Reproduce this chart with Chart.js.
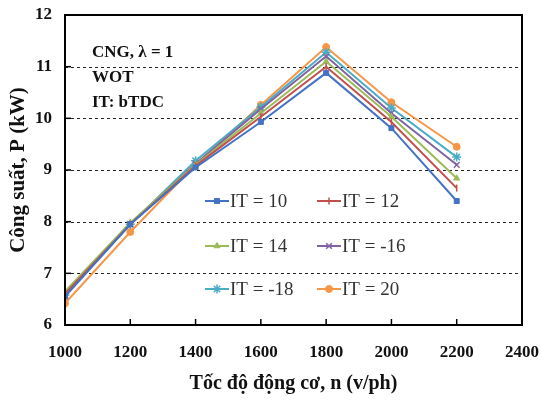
<!DOCTYPE html>
<html><head><meta charset="utf-8">
<script src="https://cdn.jsdelivr.net/npm/chart.js@4/dist/chart.umd.min.js"></script>
<style>html,body{margin:0;padding:0;background:#fff}#wrap{width:542px;height:400px}</style>
</head><body><div id="wrap"><canvas id="c" width="542" height="400"></canvas></div>
<script>
const speeds = [1000, 1200, 1400, 1600, 1800, 2000, 2200];
const seriesLabels = ['IT = 10', 'IT = 12', 'IT = 14', 'IT = -16', 'IT = -18', 'IT = 20'];
const it10  = [6.55, 7.95, 9.05, 9.93, 10.88, 9.81, 8.40];
const it12  = [6.60, 7.95, 9.08, 10.03, 11.00, 9.93, 8.65];
const it14  = [6.65, 7.98, 9.10, 10.10, 11.10, 10.03, 8.84];
const itM16 = [6.62, 7.95, 9.12, 10.18, 11.20, 10.10, 9.10];
const itM18 = [6.58, 7.95, 9.18, 10.22, 11.28, 10.20, 9.25];
const it20  = [6.42, 7.80, 9.10, 10.26, 11.38, 10.31, 9.45];
const yTicks = [6, 7, 8, 9, 10, 11, 12];
const xTicks = [1000, 1200, 1400, 1600, 1800, 2000, 2200, 2400];
const annotLines = ['CNG, \u03bb = 1', 'WOT', 'IT: bTDC'];
const yTitle = 'C\u00f4ng su\u1ea5t, P (kW)';
const xTitle = 'T\u1ed1c \u0111\u1ed9 \u0111\u1ed9ng c\u01a1, n (v/ph)';

const allValues = [it10, it12, it14, itM16, itM18, it20];
const colors = ['#4472C4', '#C0504D', '#9BBB59', '#8064A2', '#4BACC6', '#F79646'];
const styles = ['rect', 'line', 'triangle', 'crossRot', 'star', 'circle'];
const rads = [3.5, 3.5, 3.5, 4, 4.5, 3.5];
const SERIF = "'Liberation Serif', 'DejaVu Serif', serif";

const datasets = allValues.map((vals, i) => ({
  label: seriesLabels[i],
  data: speeds.map((s, j) => ({x: s, y: vals[j]})),
  borderColor: colors[i],
  backgroundColor: colors[i],
  borderWidth: 2,
  pointStyle: styles[i],
  pointRadius: rads[i],
  pointRotation: i === 1 ? 90 : 0,
  pointBorderWidth: (i === 3 || i === 4 || i === 1) ? 1.5 : 1,
  tension: 0,
  fill: false
}));

const decor = {
  id: 'decor',
  beforeDatasetsDraw(chart) {
    const ctx = chart.ctx, a = chart.chartArea, ys = chart.scales.y;
    ctx.save();
    ctx.strokeStyle = '#222'; ctx.lineWidth = 1;
    ctx.setLineDash([3, 3]);
    yTicks.forEach(v => {
      if (v === yTicks[0] || v === yTicks[yTicks.length-1]) return;
      const py = Math.round(ys.getPixelForValue(v)) + 0.5;
      ctx.beginPath(); ctx.moveTo(a.left, py); ctx.lineTo(a.right, py); ctx.stroke();
    });
    ctx.restore();
  },
  afterDraw(chart) {
    const ctx = chart.ctx, a = chart.chartArea;
    const xs = chart.scales.x, ys = chart.scales.y;
    ctx.save();
    ctx.strokeStyle = '#000'; ctx.lineWidth = 1.5;
    xTicks.forEach(v => {
      if (v === xTicks[0] || v === xTicks[xTicks.length-1]) return;
      const px = xs.getPixelForValue(v);
      ctx.beginPath(); ctx.moveTo(px, a.bottom); ctx.lineTo(px, a.bottom - 6); ctx.stroke();
    });
    yTicks.forEach(v => {
      if (v === yTicks[0] || v === yTicks[yTicks.length-1]) return;
      const py = ys.getPixelForValue(v);
      ctx.beginPath(); ctx.moveTo(a.left, py); ctx.lineTo(a.left + 6, py); ctx.stroke();
    });
    ctx.lineWidth = 2;
    ctx.strokeRect(a.left, a.top, a.right - a.left, a.bottom - a.top);
    ctx.fillStyle = '#111';
    ctx.font = 'bold 17px ' + SERIF;
    ctx.textBaseline = 'middle'; ctx.textAlign = 'left';
    annotLines.forEach((t, i) => ctx.fillText(t, a.left + 27, a.top + 38 + i * 25));
    const colX = [205, 317];
    const rowY = [201, 246, 289];
    chart.data.datasets.forEach((ds, i) => {
      const cx = colX[i % 2], cy = rowY[Math.floor(i / 2)];
      ctx.strokeStyle = ds.borderColor; ctx.fillStyle = ds.backgroundColor; ctx.lineWidth = 2;
      ctx.beginPath(); ctx.moveTo(cx, cy); ctx.lineTo(cx + 24, cy); ctx.stroke();
      ctx.lineWidth = ds.pointBorderWidth;
      Chart.helpers.drawPoint(ctx, {pointStyle: ds.pointStyle, radius: ds.pointRadius, rotation: ds.pointRotation, borderWidth: ds.pointBorderWidth}, cx + 12, cy);
      ctx.fillStyle = '#333';
      ctx.font = '19px ' + SERIF;
      ctx.fillText(ds.label, cx + 25, cy + 1);
    });
    ctx.restore();
  }
};

new Chart(document.getElementById('c'), {
  type: 'line',
  data: { datasets },
  options: {
    responsive: false,
    animation: false,
    layout: { padding: { top: 15, right: 20, left: 4, bottom: 0 } },
    plugins: { legend: { display: false }, tooltip: { enabled: false } },
    scales: {
      x: {
        type: 'linear', min: 1000, max: 2400,
        afterBuildTicks: s => { s.ticks = xTicks.map(v => ({value: v})); },
        afterFit: s => { s.height = 75; s.paddingLeft = 0; s.paddingRight = 0; },
        grid: { display: false, drawTicks: false },
        border: { display: false },
        ticks: { color: '#111', font: { family: SERIF, size: 17, weight: 'bold' }, padding: 17, maxRotation: 0, callback: v => String(v) },
        title: { display: true, text: xTitle, color: '#111', font: { family: SERIF, size: 20, weight: 'bold' }, padding: { top: 4 } }
      },
      y: {
        type: 'linear', min: 6, max: 12,
        afterBuildTicks: s => { s.ticks = yTicks.map(v => ({value: v})); },
        afterFit: s => { s.width = 61; s.paddingTop = 0; s.paddingBottom = 0; },
        grid: { display: false, drawTicks: false },
        border: { display: false },
        ticks: { color: '#111', font: { family: SERIF, size: 17, weight: 'bold' }, padding: 13, callback: v => String(v) },
        title: { display: true, text: yTitle, color: '#111', font: { family: SERIF, size: 21, weight: 'bold' }, padding: { top: 2, bottom: 4 } }
      }
    }
  },
  plugins: [decor]
});
</script></body></html>
